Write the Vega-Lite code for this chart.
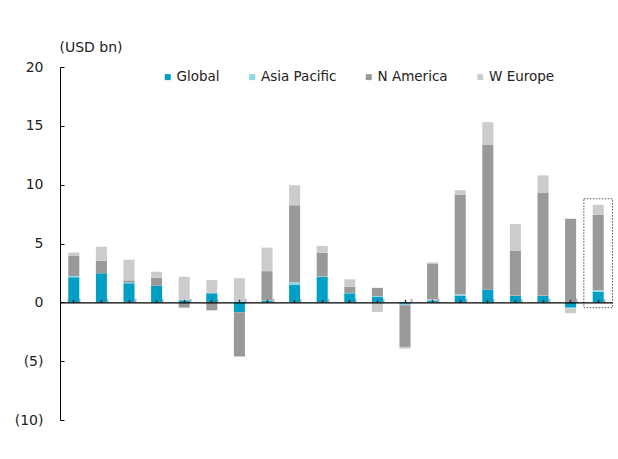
{
  "$schema": "https://vega.github.io/schema/vega-lite/v6.json",
  "width": 552,
  "height": 353,
  "autosize": "none",
  "padding": {"left": 60, "top": 67, "right": 6, "bottom": 39},
  "background": "white",
  "config": {"view": {"stroke": null}, "font": "DejaVu Sans"},
  "datasets": {
    "bars": [
      {"c": 1, "series": "Global", "v": 2.13}, {"c": 1, "series": "Asia Pacific", "v": 0.1}, {"c": 1, "series": "N America", "v": 1.75}, {"c": 1, "series": "W Europe", "v": 0.25},
      {"c": 2, "series": "Global", "v": 2.47}, {"c": 2, "series": "Asia Pacific", "v": 0}, {"c": 2, "series": "N America", "v": 1.07}, {"c": 2, "series": "W Europe", "v": 1.19},
      {"c": 3, "series": "Global", "v": 1.62}, {"c": 3, "series": "Asia Pacific", "v": 0.05}, {"c": 3, "series": "N America", "v": 0.2}, {"c": 3, "series": "W Europe", "v": 1.75},
      {"c": 4, "series": "Global", "v": 1.41}, {"c": 4, "series": "Asia Pacific", "v": 0}, {"c": 4, "series": "N America", "v": 0.68}, {"c": 4, "series": "W Europe", "v": 0.51},
      {"c": 5, "series": "Global", "v": 0.17}, {"c": 5, "series": "Asia Pacific", "v": 0.05}, {"c": 5, "series": "N America", "v": -0.45}, {"c": 5, "series": "W Europe", "v": 1.95},
      {"c": 6, "series": "Global", "v": 0.77}, {"c": 6, "series": "Asia Pacific", "v": 0.03}, {"c": 6, "series": "N America", "v": -0.68}, {"c": 6, "series": "W Europe", "v": 1.1},
      {"c": 7, "series": "Global", "v": -0.85}, {"c": 7, "series": "Asia Pacific", "v": 0.1}, {"c": 7, "series": "N America", "v": -3.75}, {"c": 7, "series": "W Europe", "v": 1.95},
      {"c": 8, "series": "Global", "v": 0.15}, {"c": 8, "series": "Asia Pacific", "v": 0.05}, {"c": 8, "series": "N America", "v": 2.45}, {"c": 8, "series": "W Europe", "v": 2.0},
      {"c": 9, "series": "Global", "v": 1.47}, {"c": 9, "series": "Asia Pacific", "v": 0.23}, {"c": 9, "series": "N America", "v": 6.55}, {"c": 9, "series": "W Europe", "v": 1.7},
      {"c": 10, "series": "Global", "v": 2.15}, {"c": 10, "series": "Asia Pacific", "v": 0.05}, {"c": 10, "series": "N America", "v": 2.0}, {"c": 10, "series": "W Europe", "v": 0.6},
      {"c": 11, "series": "Global", "v": 0.77}, {"c": 11, "series": "Asia Pacific", "v": 0.03}, {"c": 11, "series": "N America", "v": 0.51}, {"c": 11, "series": "W Europe", "v": 0.65},
      {"c": 12, "series": "Global", "v": 0.48}, {"c": 12, "series": "Asia Pacific", "v": 0.05}, {"c": 12, "series": "N America", "v": 0.7}, {"c": 12, "series": "W Europe", "v": -0.83},
      {"c": 13, "series": "Global", "v": -0.12}, {"c": 13, "series": "Asia Pacific", "v": -0.12}, {"c": 13, "series": "N America", "v": -3.55}, {"c": 13, "series": "W Europe", "v": -0.15},
      {"c": 14, "series": "Global", "v": 0.15}, {"c": 14, "series": "Asia Pacific", "v": 0.1}, {"c": 14, "series": "N America", "v": 3.05}, {"c": 14, "series": "W Europe", "v": 0.1},
      {"c": 15, "series": "Global", "v": 0.54}, {"c": 15, "series": "Asia Pacific", "v": 0.14}, {"c": 15, "series": "N America", "v": 8.48}, {"c": 15, "series": "W Europe", "v": 0.37},
      {"c": 16, "series": "Global", "v": 1.07}, {"c": 16, "series": "Asia Pacific", "v": -0.1}, {"c": 16, "series": "N America", "v": 12.34}, {"c": 16, "series": "W Europe", "v": 1.9},
      {"c": 17, "series": "Global", "v": 0.54}, {"c": 17, "series": "Asia Pacific", "v": 0.03}, {"c": 17, "series": "N America", "v": 3.83}, {"c": 17, "series": "W Europe", "v": 2.25},
      {"c": 18, "series": "Global", "v": 0.54}, {"c": 18, "series": "Asia Pacific", "v": 0.05}, {"c": 18, "series": "N America", "v": 8.7}, {"c": 18, "series": "W Europe", "v": 1.5},
      {"c": 19, "series": "Global", "v": -0.45}, {"c": 19, "series": "Asia Pacific", "v": -0.08}, {"c": 19, "series": "N America", "v": 7.1}, {"c": 19, "series": "W Europe", "v": -0.4},
      {"c": 20, "series": "Global", "v": 0.9}, {"c": 20, "series": "Asia Pacific", "v": 0.14}, {"c": 20, "series": "N America", "v": 6.4}, {"c": 20, "series": "W Europe", "v": 0.85}
    ],
    "box": [
      {"c": 20, "v": 8.8, "v2": -0.45}
    ]
  },
  "encoding": {
    "y": {
      "field": "v",
      "type": "quantitative",
      "scale": {"domain": [-10, 20], "nice": false, "zero": false},
      "axis": {
        "values": [-10, -5, 0, 5, 10, 15, 20],
        "labelExpr": "datum.value < 0 ? '(' + abs(datum.value) + ')' : datum.value",
        "grid": false,
        "domainColor": "#000000",
        "tickColor": "#000000",
        "tickSize": -4,
        "labelPadding": 21,
        "labelFontSize": 14,
        "labelColor": "#222222",
        "title": "(USD bn)",
        "titleAngle": 0,
        "titleX": -1,
        "titleY": -16,
        "titleAlign": "left",
        "titleBaseline": "alphabetic",
        "titleFontWeight": "normal",
        "titleFontSize": 14,
        "titleColor": "#222222",
        "zindex": 1
      }
    }
  },
  "layer": [
    {
      "data": {"name": "bars"},
      "transform": [
        {"calculate": "indexof(['Global', 'Asia Pacific', 'N America', 'W Europe'], datum.series)", "as": "ord"}
      ],
      "mark": {"type": "bar"},
      "encoding": {
        "x": {
          "field": "c",
          "type": "ordinal",
          "scale": {"paddingInner": 0.6, "paddingOuter": 0.3},
          "axis": {
            "orient": "bottom",
            "labels": false,
            "title": null,
            "offset": -117.67,
            "domainColor": "#000000",
            "domainWidth": 1.2,
            "tickColor": "#333333",
            "tickSize": -3,
            "tickWidth": 1.5,
            "zindex": 2
          }
        },
        "order": {"field": "ord", "type": "quantitative", "sort": "ascending"},
        "color": {
          "field": "series",
          "type": "nominal",
          "scale": {
            "domain": ["Global", "Asia Pacific", "N America", "W Europe"],
            "range": ["#00A0C6", "#8ED6E6", "#999999", "#CCCCCC"]
          },
          "legend": {
            "orient": "none",
            "legendX": 101,
            "legendY": 3,
            "direction": "horizontal",
            "title": null,
            "symbolType": "square",
            "symbolSize": 36,
            "symbolStrokeWidth": 0,
            "labelFontSize": 13.5,
            "labelColor": "#222222",
            "labelOffset": 2,
            "columnPadding": 25.5,
            "padding": 0
          }
        }
      }
    },
    {
      "data": {"name": "box"},
      "mark": {"type": "bar", "fillOpacity": 0, "stroke": "#555555", "strokeWidth": 1, "strokeDash": [1.5, 1.5], "width": {"band": 2.6}},
      "encoding": {
        "x": {
          "field": "c",
          "type": "ordinal",
          "axis": {
            "orient": "bottom",
            "labels": false,
            "title": null,
            "domain": false,
            "offset": -117.67,
            "tickBand": "extent",
            "tickColor": "#b0b0b0",
            "tickSize": -4,
            "tickWidth": 2,
            "zindex": 0
          }
        },
        "y2": {"field": "v2"}
      }
    }
  ],
  "resolve": {"axis": {"x": "independent"}}
}
